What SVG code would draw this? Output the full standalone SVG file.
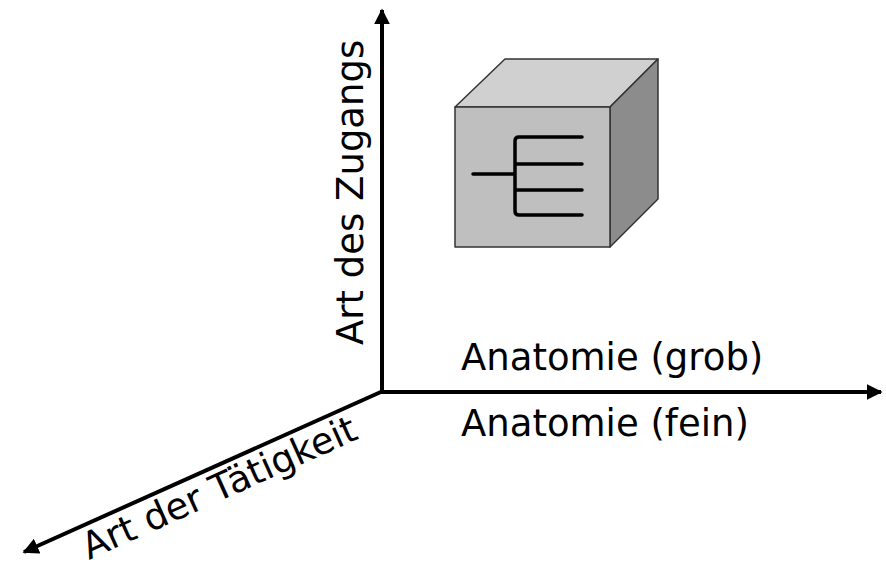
<svg xmlns="http://www.w3.org/2000/svg" width="886" height="564" viewBox="0 0 886 564">
<defs>
<style>
.ax{stroke:#000;stroke-width:4;fill:none}
.lbl{font-family:"DejaVu Sans",Verdana,sans-serif;font-size:37px;fill:#000}
.edge{stroke:#333;stroke-width:1.5;stroke-linejoin:round}
.tree{stroke:#000;stroke-width:3.5;fill:none;stroke-linecap:round;stroke-linejoin:round}
</style>
<marker id="ah" viewBox="0 0 10 10" refX="9" refY="5" markerWidth="4" markerHeight="4" orient="auto" markerUnits="strokeWidth">
<path d="M0,0 L10,5 L0,10 z" fill="#000"/>
</marker>
</defs>
<rect width="886" height="564" fill="#fff"/>
<g id="connectors">
<line class="ax" x1="382" y1="392" x2="382" y2="10" marker-end="url(#ah)"/>
<line class="ax" x1="380" y1="392" x2="881" y2="392" marker-end="url(#ah)"/>
<line class="ax" x1="383" y1="391" x2="24" y2="552" marker-end="url(#ah)"/>
</g>
<g id="cube">
<polygon class="edge" points="455,107 505,59 658,59 610,107" fill="#d0d0d0"/>
<polygon class="edge" points="610,107 658,59 658,199 610,247" fill="#8c8c8c"/>
<rect class="edge" x="455" y="107" width="155" height="140" fill="#bfbfbf"/>
<path class="tree" d="M473,174 H515 M582,137 H519 Q515,137 515,141 V211 Q515,215 519,215 H582 M515,164 H582 M515,190 H582"/>
</g>
<g id="label-grob"><text class="lbl" x="461" y="370">Anatomie (grob)</text></g>
<g id="label-fein"><text class="lbl" x="461" y="436">Anatomie (fein)</text></g>
<g id="label-zugang"><text class="lbl" x="363" y="345" transform="rotate(-90 363 345)">Art des Zugangs</text></g>
<g id="label-taetigkeit"><text class="lbl" x="89" y="560" transform="rotate(-24.2 89 560)">Art der Tätigkeit</text></g>
</svg>
